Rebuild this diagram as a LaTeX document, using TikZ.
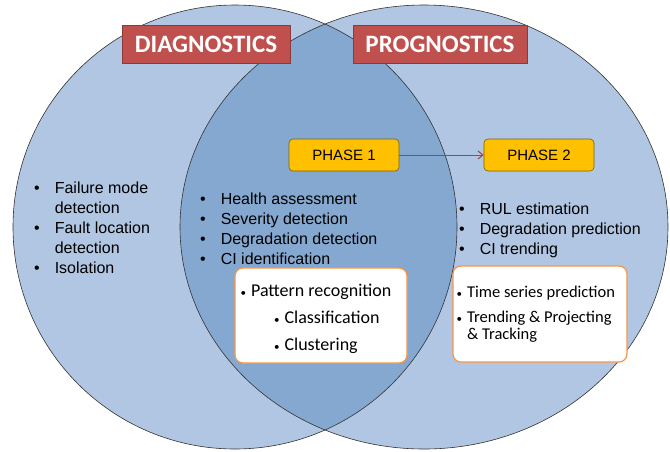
\documentclass[tikz,border=0pt]{standalone}
\usepackage{fontspec}
\setmainfont{Liberation Sans}
\newfontfamily\calib{Carlito}
\usetikzlibrary{arrows.meta,positioning}
\definecolor{vennlight}{HTML}{B1C6E2}
\definecolor{venndark}{HTML}{85A8D0}
\definecolor{titlered}{HTML}{C0504D}
\definecolor{titleedge}{HTML}{8C3A38}
\definecolor{phaseyellow}{HTML}{FFC000}
\definecolor{phaseedge}{HTML}{7F6000}
\definecolor{boxorange}{HTML}{F79646}
\tikzset{
  venn/.style = {draw=black!80, line width=0.6pt},
  titlebox/.style = {rectangle, fill=titlered, draw=titleedge, line width=1pt, text=white,
    font=\calib\fontsize{25}{28}\selectfont\bfseries, minimum height=38pt, inner sep=0pt},
  phasebox/.style = {rectangle, rounded corners=4pt, fill=phaseyellow, draw=phaseedge, line width=0.6pt,
    font=\fontsize{15}{18}\selectfont, minimum width=110pt, minimum height=32pt, inner sep=0pt},
  phasearrow/.style = {-{Straight Barb[length=5pt,width=8pt]}, draw=titlered!85!black, line width=1pt},
  itemlist/.style = {anchor=north west, inner sep=0pt, font=\fontsize{16}{20}\selectfont},
  whitebox/.style = {rectangle, rounded corners=8pt, fill=white, draw=boxorange, line width=1.2pt,
    inner sep=0pt, font=\calib},
}
\newcommand{\smallbul}{{\fontsize{11}{11}\selectfont\textbullet}}

\begin{document}
\begin{tikzpicture}[x=1pt,y=-1pt]
\useasboundingbox (0,0) rectangle (670,451);

% circles
\fill[vennlight] (235,227) ellipse [x radius=222, y radius=222];
\fill[vennlight] (424,227) ellipse [x radius=244, y radius=222];
\begin{scope}
  \clip (235,227) ellipse [x radius=222, y radius=222];
  \fill[venndark] (424,227) ellipse [x radius=244, y radius=222];
\end{scope}
\draw[venn] (235,227) ellipse [x radius=222, y radius=222];
\draw[venn] (424,227) ellipse [x radius=244, y radius=222];

% titles
\node[titlebox, minimum width=168pt] (diag) at (206,44) {DIAGNOSTICS};
\node[titlebox, minimum width=174pt] (prog) at (440,44) {PROGNOSTICS};

% phases
\node[phasebox] (ph1) at (344,155) {PHASE 1};
\node[phasebox] (ph2) at (539,155) {PHASE 2};
\draw[phasearrow] (ph1.east) -- (ph2.west);

% diagnostics only
\node[itemlist] (diaglist) at (34,179) {%
  \begin{tabular}{@{}l@{\hspace{15pt}}l@{}}
  \textbullet & Failure mode\\
              & detection\\
  \textbullet & Fault location\\
              & detection\\
  \textbullet & Isolation
  \end{tabular}};

% both
\node[itemlist] (commonlist) at (200,190) {%
  \begin{tabular}{@{}l@{\hspace{15pt}}l@{}}
  \textbullet & Health assessment\\
  \textbullet & Severity detection\\
  \textbullet & Degradation detection\\
  \textbullet & CI identification
  \end{tabular}};

% prognostics only
\node[itemlist] (proglist) at (459,200) {%
  \begin{tabular}{@{}l@{\hspace{15pt}}l@{}}
  \textbullet & RUL estimation\\
  \textbullet & Degradation prediction\\
  \textbullet & CI trending
  \end{tabular}};

% methods
\node[whitebox, minimum width=172pt, minimum height=95pt] (diagbox) at (321,315.5) {};
\node[anchor=west, inner sep=0pt, font=\calib\fontsize{18}{27}\selectfont] (diagtext) at ([xshift=6pt,yshift=-2.5pt]diagbox.west) {%
  \begin{tabular}{@{}l@{\hspace{5pt}}l@{}}
  \smallbul & Pattern recognition\\
            & \hspace{23pt}\smallbul\hspace{5pt}Classification\\
            & \hspace{23pt}\smallbul\hspace{5pt}Clustering
  \end{tabular}};

\node[whitebox, minimum width=174pt, minimum height=96pt] (progbox) at (540,314) {};
\node[anchor=west, inner sep=0pt, font=\calib\fontsize{16.5}{17}\selectfont] (progtext) at ([xshift=4pt,yshift=-1.5pt]progbox.west) {%
  \begin{tabular}{@{}l@{\hspace{5pt}}l@{}}
  \smallbul & Time series prediction\\[8pt]
  \smallbul & Trending \& Projecting\\
            & \& Tracking
  \end{tabular}};

\end{tikzpicture}
\end{document}
